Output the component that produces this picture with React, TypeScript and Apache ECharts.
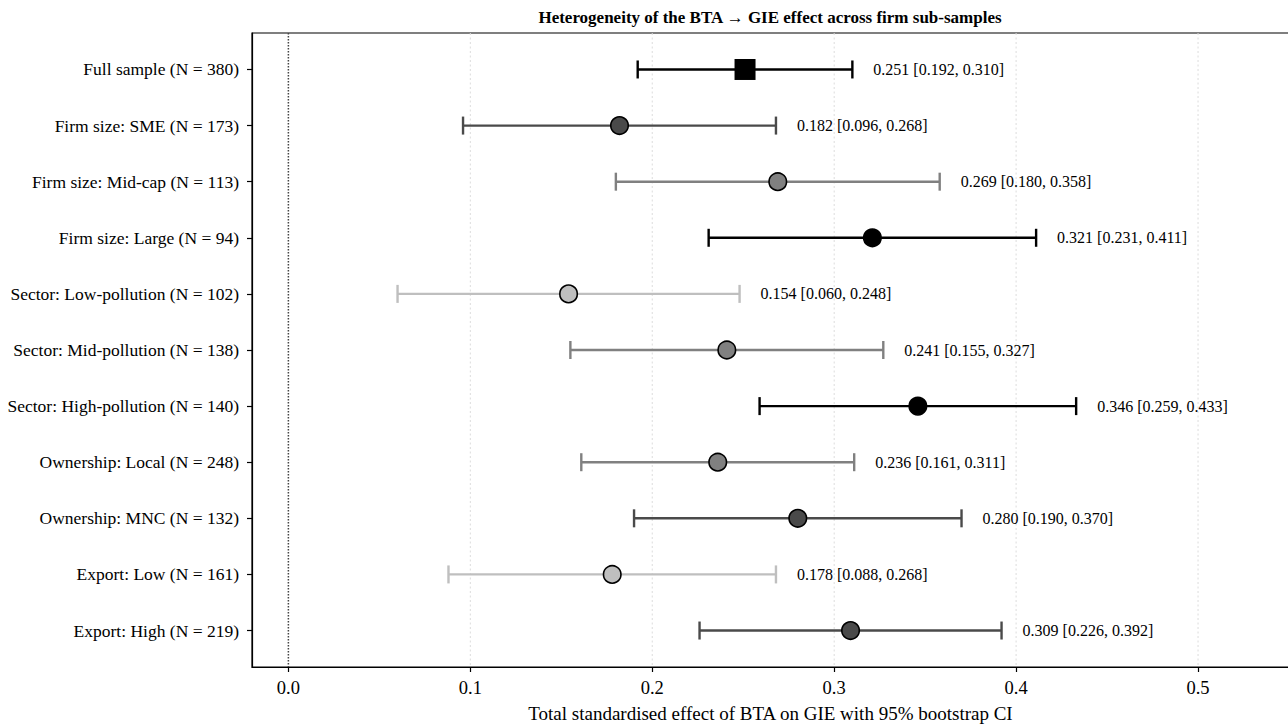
import React, { useEffect, useRef } from "react";
import * as echarts from "echarts";

const categories = [
  "Full sample (N = 380)",
  "Firm size: SME (N = 173)",
  "Firm size: Mid-cap (N = 113)",
  "Firm size: Large (N = 94)",
  "Sector: Low-pollution (N = 102)",
  "Sector: Mid-pollution (N = 138)",
  "Sector: High-pollution (N = 140)",
  "Ownership: Local (N = 248)",
  "Ownership: MNC (N = 132)",
  "Export: Low (N = 161)",
  "Export: High (N = 219)",
];
const estimates = [0.251, 0.182, 0.269, 0.321, 0.154, 0.241, 0.346, 0.236, 0.28, 0.178, 0.309];
const lower = [0.192, 0.096, 0.18, 0.231, 0.06, 0.155, 0.259, 0.161, 0.19, 0.088, 0.226];
const upper = [0.31, 0.268, 0.358, 0.411, 0.248, 0.327, 0.433, 0.311, 0.37, 0.268, 0.392];
const xTicks = [0.0, 0.1, 0.2, 0.3, 0.4, 0.5];
const rowIdx = categories.map((_, i) => i);

const DARK = "#4a4a4a";
const MID = "#808080";
const LIGHT = "#bfbfbf";
const BLACK = "#000000";
const colors = [BLACK, DARK, MID, BLACK, LIGHT, MID, BLACK, MID, DARK, LIGHT, DARK];
const FONT = "'Liberation Serif', 'DejaVu Serif', serif";

export default function App() {
  const ref = useRef<HTMLDivElement>(null);
  useEffect(() => {
    if (!ref.current) return;
    const chart = echarts.init(ref.current, undefined, { renderer: "svg" });
    const errData = rowIdx.map((i) => [lower[i], upper[i], i]);
    const ptData = rowIdx.map((i) => ({
      value: [estimates[i], i],
      symbol: i === 0 ? "rect" : "circle",
      symbolSize: i === 0 ? 21 : 17.5,
      itemStyle: {
        color: colors[i],
        borderColor: "#000",
        borderWidth: i === 0 ? 0 : 1.6,
        opacity: 1,
      },
    }));
    chart.setOption({
      animation: false,
      textStyle: { fontFamily: FONT },
      graphic: [
        {
          type: "text",
          x: 770,
          y: 17,
          style: {
            text: "Heterogeneity of the BTA \u2192 GIE effect across firm sub-samples",
            font: `bold 17px ${FONT}`,
            fill: "#000",
            textAlign: "center",
            textVerticalAlign: "middle",
          },
        },
      ],
      grid: {
        left: 252,
        right: -1,
        top: 33,
        bottom: 58,
        show: true,
        borderColor: "#000",
        borderWidth: 1.2,
        outerBoundsMode: "none",
        containLabel: false,
      },
      xAxis: {
        type: "value",
        min: -0.02,
        max: 0.55,
        name: "Total standardised effect of BTA on GIE with 95% bootstrap CI",
        nameLocation: "middle",
        nameGap: 37,
        nameTextStyle: { fontFamily: FONT, fontSize: 19, color: "#000" },
        axisLine: { show: true, onZero: false, lineStyle: { color: "#000", width: 1.2 } },
        axisTick: { show: true, customValues: xTicks, length: 5, lineStyle: { color: "#000", width: 1.2 } },
        axisLabel: {
          customValues: xTicks,
          formatter: (v: number) => v.toFixed(1),
          fontFamily: FONT,
          fontSize: 18.5,
          color: "#000",
          margin: 11,
        },
        splitLine: { show: false },
      },
      yAxis: {
        type: "value",
        inverse: true,
        min: -0.65,
        max: 10.65,
        axisLine: { show: true, onZero: false, lineStyle: { color: "#000", width: 1.2 } },
        axisTick: { show: true, customValues: rowIdx, length: 5, lineStyle: { color: "#000", width: 1.2 } },
        axisLabel: {
          customValues: rowIdx,
          formatter: (v: number) => categories[Math.round(v)] ?? "",
          fontFamily: FONT,
          fontSize: 17.5,
          color: "#000",
          margin: 13,
        },
        splitLine: { show: false },
      },
      series: [
        {
          type: "custom",
          z: 1,
          silent: true,
          data: xTicks.map((t) => [t]),
          renderItem: (params: any, api: any) => {
            const t = api.value(0);
            const cs = params.coordSys;
            const x = api.coord([t, 0])[0];
            const isZero = Math.abs(t) < 1e-9;
            return {
              type: "line",
              shape: { x1: x, y1: cs.y, x2: x, y2: cs.y + cs.height },
              style: isZero
                ? { stroke: "#444444", lineWidth: 1.5, lineDash: [1.5, 1.5] }
                : { stroke: "#dcdcdc", lineWidth: 1, lineDash: [2, 2.5] },
            };
          },
        },
        {
          type: "custom",
          z: 3,
          data: errData,
          renderItem: (params: any, api: any) => {
            const lo = api.value(0);
            const hi = api.value(1);
            const idx = api.value(2);
            const p1 = api.coord([lo, idx]);
            const p2 = api.coord([hi, idx]);
            const c = colors[idx];
            const ls = { stroke: c, lineWidth: 2.4 };
            return {
              type: "group",
              children: [
                { type: "line", shape: { x1: p1[0], y1: p1[1], x2: p2[0], y2: p2[1] }, style: ls },
                { type: "line", shape: { x1: p1[0], y1: p1[1] - 9, x2: p1[0], y2: p1[1] + 9 }, style: ls },
                { type: "line", shape: { x1: p2[0], y1: p2[1] - 9, x2: p2[0], y2: p2[1] + 9 }, style: ls },
                {
                  type: "text",
                  x: p2[0] + 21,
                  y: p2[1],
                  style: {
                    text: `${estimates[idx].toFixed(3)} [${lower[idx].toFixed(3)}, ${upper[idx].toFixed(3)}]`,
                    font: `16px ${FONT}`,
                    fill: "#000",
                    textAlign: "left",
                    textVerticalAlign: "middle",
                  },
                },
              ],
            };
          },
        },
        {
          type: "scatter",
          z: 5,
          data: ptData,
        },
      ],
    });
    return () => chart.dispose();
  }, []);
  return (
    <div
      ref={ref}
      style={{ position: "fixed", left: 0, top: 0, width: 1288, height: 725, background: "#fff" }}
    />
  );
}
